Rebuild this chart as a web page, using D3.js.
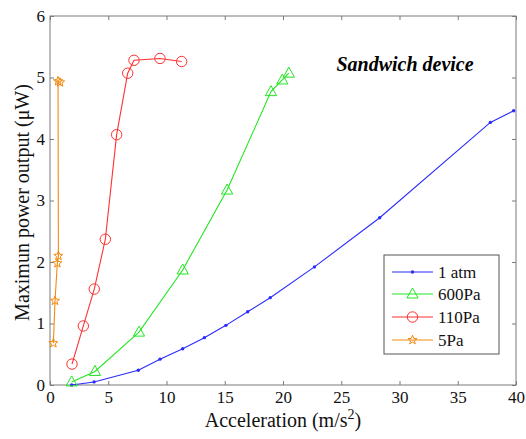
<!DOCTYPE html>
<html>
<head>
<meta charset="utf-8">
<script src="https://cdn.jsdelivr.net/npm/d3@7"></script>
</head>
<body style="margin:0">
<svg id="chart" width="526" height="439"></svg>
<script>
// Acceleration (m/s^2) and maximum power output (uW) per pressure condition
const atmX = [1.86, 3.78, 7.58, 9.44, 11.39, 13.25, 15.1, 16.97, 18.9, 22.7, 28.3, 37.8, 39.8];
const atmY = [0.0, 0.05, 0.24, 0.42, 0.59, 0.77, 0.97, 1.19, 1.42, 1.92, 2.72, 4.27, 4.46];
const pa600X = [1.86, 3.86, 7.64, 11.39, 15.2, 18.97, 19.94, 20.5];
const pa600Y = [0.05, 0.22, 0.86, 1.87, 3.17, 4.77, 4.96, 5.07];
const pa110X = [1.89, 2.86, 3.8, 4.75, 5.72, 6.67, 7.21, 9.44, 11.3];
const pa110Y = [0.34, 0.96, 1.56, 2.37, 4.07, 5.07, 5.28, 5.31, 5.26];
const pa5X = [0.29, 0.43, 0.63, 0.72, 0.69, 0.86];
const pa5Y = [0.68, 1.37, 1.98, 2.1, 4.94, 4.92];

const seriesNames = ["1 atm", "600Pa", "110Pa", "5Pa"];
const xTicks = [0, 5, 10, 15, 20, 25, 30, 35, 40];
const yTicks = [0, 1, 2, 3, 4, 5, 6];

const series = [
  { name: seriesNames[0], xs: atmX, ys: atmY, color: "#2b2bff", marker: "dot" },
  { name: seriesNames[1], xs: pa600X, ys: pa600Y, color: "#22e622", marker: "triangle" },
  { name: seriesNames[2], xs: pa110X, ys: pa110Y, color: "#ff3030", marker: "circle" },
  { name: seriesNames[3], xs: pa5X, ys: pa5Y, color: "#f28a10", marker: "star" }
];

const face = '"Liberation Serif", "Times New Roman", Tinos, Times, serif';
const svg = d3.select("#chart").attr("font-family", face).style("font-family", face);
const m = { left: 50, right: 516, top: 16, bottom: 385 };
const x = d3.scaleLinear().domain([0, 40]).range([m.left, m.right]);
const y = d3.scaleLinear().domain([0, 6]).range([m.bottom, m.top]);
const axisColor = "#7a7a7a";
const fmt = d3.format("d");

function serifText(sel, size) {
  return sel.attr("font-family", face).style("font-family", face)
    .attr("font-size", size).style("font-size", size + "px");
}

// Frame
svg.append("rect")
  .attr("x", m.left).attr("y", m.top)
  .attr("width", m.right - m.left).attr("height", m.bottom - m.top)
  .attr("fill", "none").attr("stroke", axisColor).attr("stroke-width", 1);

// Axes with inward ticks
const tickLen = 4;
const bottomAxis = svg.append("g").attr("transform", `translate(0,${m.bottom})`)
  .call(d3.axisBottom(x).tickValues(xTicks).tickFormat(fmt).tickSizeInner(-tickLen).tickSizeOuter(0).tickPadding(6));
const topAxis = svg.append("g").attr("transform", `translate(0,${m.top})`)
  .call(d3.axisTop(x).tickValues(xTicks).tickSizeInner(-tickLen).tickSizeOuter(0).tickFormat(""));
const leftAxis = svg.append("g").attr("transform", `translate(${m.left},0)`)
  .call(d3.axisLeft(y).tickValues(yTicks).tickFormat(fmt).tickSizeInner(-tickLen).tickSizeOuter(0).tickPadding(5));
const rightAxis = svg.append("g").attr("transform", `translate(${m.right},0)`)
  .call(d3.axisRight(y).tickValues(yTicks).tickSizeInner(-tickLen).tickSizeOuter(0).tickFormat(""));

[bottomAxis, topAxis, leftAxis, rightAxis].forEach(g => {
  g.attr("font-family", face).attr("font-size", 17);
  g.select(".domain").remove();
  g.selectAll(".tick line").attr("stroke", axisColor);
  serifText(g.selectAll(".tick text"), 17).attr("fill", "#111");
});

// Marker shapes
function drawMarker(g, type, cx, cy, color) {
  if (type === "dot") {
    g.append("circle").attr("cx", cx).attr("cy", cy).attr("r", 1.7).attr("fill", color);
  } else if (type === "circle") {
    g.append("circle").attr("cx", cx).attr("cy", cy).attr("r", 5.2)
      .attr("fill", "none").attr("stroke", color).attr("stroke-width", 1);
  } else if (type === "triangle") {
    g.append("path")
      .attr("d", `M${cx},${cy - 6}L${cx + 5.6},${cy + 4}L${cx - 5.6},${cy + 4}Z`)
      .attr("fill", "none").attr("stroke", color).attr("stroke-width", 1);
  } else if (type === "star") {
    const pts = [];
    for (let i = 0; i < 10; i++) {
      const r = i % 2 === 0 ? 4.8 : 2.0;
      const a = -Math.PI / 2 + i * Math.PI / 5;
      pts.push([cx + r * Math.cos(a), cy + r * Math.sin(a)]);
    }
    g.append("path").attr("d", "M" + pts.map(p => p.join(",")).join("L") + "Z")
      .attr("fill", "none").attr("stroke", color).attr("stroke-width", 1);
  }
}

const line = d3.line().x(d => x(d[0])).y(d => y(d[1]));
const plot = svg.append("g");
series.forEach(s => {
  const data = s.xs.map((v, i) => [v, s.ys[i]]);
  plot.append("path").datum(data)
    .attr("d", line).attr("fill", "none")
    .attr("stroke", s.color).attr("stroke-width", 1.1);
  const mg = plot.append("g");
  data.forEach(d => drawMarker(mg, s.marker, x(d[0]), y(d[1]), s.color));
});

// Inset title
serifText(svg.append("text"), 20)
  .attr("x", 405).attr("y", 71)
  .attr("text-anchor", "middle")
  .style("font-weight", "bold").style("font-style", "italic")
  .attr("fill", "#000")
  .text("Sandwich device");

// Legend
const lg = svg.append("g");
lg.append("rect")
  .attr("x", 384).attr("y", 255).attr("width", 115).attr("height", 99)
  .attr("fill", "#fff").attr("stroke", "#555").attr("stroke-width", 1);
const rowY = [272, 294, 317, 340];
series.forEach((s, i) => {
  lg.append("line")
    .attr("x1", 392).attr("x2", 433).attr("y1", rowY[i]).attr("y2", rowY[i])
    .attr("stroke", s.color).attr("stroke-width", 1.1);
  drawMarker(lg, s.marker, 412.5, rowY[i], s.color);
  serifText(lg.append("text"), 17)
    .attr("x", 438).attr("y", rowY[i]).attr("dy", "0.35em")
    .attr("fill", "#111")
    .text(s.name);
});

// Axis titles
const xt = serifText(svg.append("text"), 20)
  .attr("x", 283).attr("y", 427)
  .attr("text-anchor", "middle")
  .attr("fill", "#111");
xt.append("tspan").text("Acceleration (m/s");
xt.append("tspan").attr("dy", -8).style("font-size", "14px").text("2");
xt.append("tspan").attr("dy", 8).text(")");

serifText(svg.append("text"), 20)
  .attr("transform", `translate(29,${(m.top + m.bottom) / 2 + 2}) rotate(-90)`)
  .attr("text-anchor", "middle")
  .attr("fill", "#111")
  .text("Maximun power output (\u03bcW)");
</script>
</body>
</html>
